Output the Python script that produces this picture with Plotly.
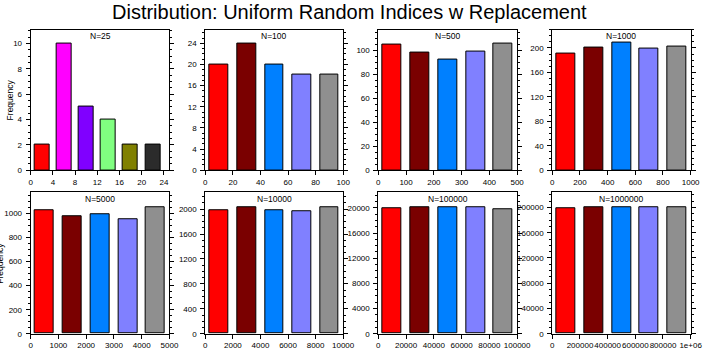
import plotly.graph_objects as go

W, H = 711, 353

# ---- data ----
panel_titles = ["N=25", "N=100", "N=500", "N=1000", "N=5000", "N=10000", "N=100000", "N=1000000"]
n_values = [25, 100, 500, 1000, 5000, 10000, 100000, 1000000]
counts_25 = [2, 10, 5, 4, 2, 2]
counts_100 = [20, 24, 20, 18, 18]
counts_500 = [105, 98, 92, 99, 106]
counts_1000 = [190, 200, 208, 199, 203]
counts_5000 = [1025, 980, 993, 950, 1055]
counts_10000 = [1984, 2032, 1979, 1963, 2027]
counts_100000 = [19895, 20053, 20158, 20053, 19737]
counts_1000000 = [198950, 200000, 200000, 201050, 200000]
all_counts = [counts_25, counts_100, counts_500, counts_1000,
              counts_5000, counts_10000, counts_100000, counts_1000000]
bin_widths = [4, 20, 100, 200, 1000, 2000, 20000, 200000]
colors_25 = ["#FF0000", "#FF00FF", "#8000FF", "#80FF80", "#808000", "#2B2B2B"]
colors_5 = ["#FF0000", "#7A0000", "#0080FF", "#8080FF", "#8F8F8F"]
x_tick_vals = [[0, 4, 8, 12, 16, 20, 24]] + [[i * bw for i in range(6)] for bw in bin_widths[1:]]
x_tick_text_last = ["0", "200000", "400000", "600000", "800000", "1e+06"]
y_dticks = [2, 4, 20, 40, 200, 400, 4000, 40000]
y_max = [11.1, 26.6, 117.3, 230, 1178, 2272, 22480, 224100]

# ---- layout geometry (pixels) ----
x_px = [(29.3, 171.3), (208, 349), (385, 527), (563, 704.5)]
y_px = [(30, 172.7), (195, 338.5)]

font_family = "Liberation Sans, Arial, Helvetica, sans-serif"
fig = go.Figure()
layout = {}
annotations = []
for i in range(8):
    row, col = divmod(i, 4)
    k = i + 1
    xa = "x" if k == 1 else f"x{k}"
    ya = "y" if k == 1 else f"y{k}"
    bw = bin_widths[i]
    counts = all_counts[i]
    centers = [bw * (j + 0.5) for j in range(len(counts))]
    cols = colors_25 if i == 0 else colors_5
    fig.add_trace(go.Bar(x=centers, y=counts, width=bw * 0.68,
                         marker=dict(color=cols, line=dict(color="black", width=1)),
                         xaxis=xa, yaxis=ya, showlegend=False))
    x0, x1 = x_px[col]
    y0, y1 = y_px[row]
    ticktext = x_tick_text_last if i == 7 else [str(v) for v in x_tick_vals[i]]
    layout[f"xaxis{k}"] = dict(
        domain=[x0 / W, x1 / W], anchor=ya, range=[0, n_values[i]],
        tickvals=x_tick_vals[i], ticktext=ticktext, tickangle=0,
        ticks="outside", ticklen=4, tickwidth=1, tickcolor="black",
        showline=True, linecolor="black", linewidth=1, mirror=True,
        showgrid=False, zeroline=False,
        tickfont=dict(size=8, family=font_family, color="black"),
        fixedrange=True)
    layout[f"yaxis{k}"] = dict(
        domain=[1 - y1 / H, 1 - y0 / H], anchor=xa, range=[0, y_max[i]],
        dtick=y_dticks[i], tick0=0, tickformat="d",
        ticks="outside", ticklen=4, tickwidth=1, tickcolor="black",
        ticklabelstandoff=2,
        minor=dict(dtick=y_dticks[i] / 4, ticks="outside", ticklen=2,
                   tickwidth=1, tickcolor="black", showgrid=False),
        showline=True, linecolor="black", linewidth=1, mirror="ticks",
        showgrid=False, zeroline=False,
        tickfont=dict(size=8, family=font_family, color="black"),
        fixedrange=True)
    annotations.append(dict(text=panel_titles[i], xref="paper", yref="paper",
                            x=(x0 + x1) / 2 / W, y=1 - (y0 + 7) / H,
                            xanchor="center", yanchor="middle", showarrow=False,
                            font=dict(size=8.5, family=font_family, color="black")))

annotations.append(dict(text="Frequency", xref="paper", yref="paper",
                        x=8 / W, y=1 - 101 / H, textangle=-90,
                        xanchor="center", yanchor="middle", showarrow=False,
                        font=dict(size=8.5, family=font_family, color="black")))
annotations.append(dict(text="Frequency", xref="paper", yref="paper",
                        x=-1.5 / W, y=1 - 267 / H, textangle=-90,
                        xanchor="center", yanchor="middle", showarrow=False,
                        font=dict(size=8.5, family=font_family, color="black")))
annotations.append(dict(text="Distribution: Uniform Random Indices w Replacement",
                        xref="paper", yref="paper", x=0.5, y=1 - 12 / H,
                        xanchor="center", yanchor="middle", showarrow=False,
                        font=dict(size=20, family=font_family, color="black")))

fig.update_layout(width=W, height=H, margin=dict(l=0, r=0, t=0, b=0),
                  paper_bgcolor="white", plot_bgcolor="white",
                  bargap=0, annotations=annotations, **layout)
fig.write_html("out.html", config={"displayModeBar": False})
